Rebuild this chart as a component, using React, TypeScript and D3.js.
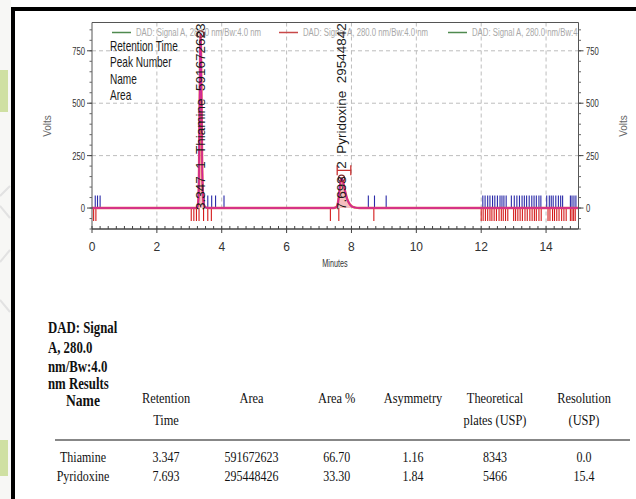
import React from "react";
import * as d3 from "d3";

// ---- chromatogram data ----
const xTicks = [0, 2, 4, 6, 8, 10, 12, 14];
const yTicks = [0, 250, 500, 750];

// detector trace (minutes, volts)
const signalTrace: [number, number][] = [
  [0, 0], [3.2, 0], [3.25, 5], [3.28, 40], [3.3, 180], [3.32, 520], [3.335, 760],
  [3.347, 830], [3.36, 760], [3.375, 540], [3.395, 230], [3.42, 70], [3.45, 15],
  [3.5, 3], [3.6, 0], [7.45, 0], [7.52, 3], [7.57, 15], [7.61, 55], [7.64, 100],
  [7.67, 132], [7.693, 142], [7.72, 136], [7.76, 112], [7.81, 76], [7.87, 42],
  [7.94, 20], [8.02, 7], [8.12, 2], [8.25, 0], [15, 0],
];

const peakNames = ["Thiamine", "Pyridoxine"];
const peakTimes = [3.347, 7.693];
const peakNumbers = [1, 2];
const peakAreas = [591672623, 295448426];
const peakHeights = [830, 142];

// integration events along the baseline (minutes)
const blueEvents = [
  0.1, 0.17, 0.25, 3.46, 3.57, 3.69, 3.81, 4.07, 8.52, 8.71, 9.07,
  12.05, 12.12, 12.2, 12.27, 12.35, 12.42, 12.5, 12.58, 12.64, 12.7, 12.77,
  12.93, 13.02, 13.1, 13.18, 13.26, 13.33, 13.4, 13.48, 13.56, 13.63, 13.7, 13.78, 13.84,
  14.02, 14.1, 14.16, 14.22, 14.3, 14.38, 14.45, 14.51, 14.75, 14.8, 14.86, 14.92,
];
const redEvents = [
  0.05, 0.12, 3.06, 3.14, 3.22, 3.3, 3.44, 3.57, 3.68, 7.35, 7.61, 8.69,
  12.0, 12.06, 12.13, 12.2, 12.27, 12.33, 12.4, 12.47, 12.55, 12.62, 12.68, 12.75, 12.82,
  13.0, 13.06, 13.13, 13.2, 13.27, 13.35, 13.42, 13.5, 13.57, 13.64, 13.7, 13.78, 13.85,
  14.06, 14.12, 14.2, 14.26, 14.33, 14.4, 14.48, 14.55, 14.62, 14.75, 14.8, 14.85, 14.9,
];

const legendLabels = [
  "DAD: Signal A, 280.0 nm/Bw:4.0 nm",
  "DAD: Signal A, 280.0 nm/Bw:4.0 nm",
  "DAD: Signal A, 280.0 nm/Bw:4.0 nm",
];
const legendColors = ["#4f8a4f", "#c84848", "#4f8a4f"];
const annotationFields = ["Retention Time", "Peak Number", "Name", "Area"];

// ---- results table data ----
const tableTitle = ["DAD: Signal", "A, 280.0", "nm/Bw:4.0", "nm Results"];
const tableHeaders = [["Name"], ["Retention", "Time"], ["Area"], ["Area %"], ["Asymmetry"], ["Theoretical", "plates (USP)"], ["Resolution", "(USP)"]];
const compoundNames = ["Thiamine", "Pyridoxine"];
const retentionTimes = ["3.347", "7.693"];
const areas = ["591672623", "295448426"];
const areaPercents = ["66.70", "33.30"];
const asymmetry = ["1.16", "1.84"];
const theoreticalPlates = ["8343", "5466"];
const resolution = ["0.0", "15.4"];

const W = 636;
const H = 499;
const plot = { left: 92, right: 578.5, top: 22.5, bottom: 229 };

const x = d3.scaleLinear().domain([0, 15]).range([plot.left, plot.right]);
const y = d3.scaleLinear().domain([-100, 885]).range([plot.bottom, plot.top]);

const SANS = "Liberation Sans, Arial, sans-serif";
const SERIF = "Liberation Serif, Times New Roman, serif";

type CTextProps = {
  x: number; y: number; sx?: number; anchor?: "start" | "middle" | "end";
  size: number; family?: string; weight?: string | number; fill?: string; children: React.ReactNode;
};
// horizontally condensed text
const CText = ({ x, y, sx = 1, anchor = "start", size, family = SANS, weight = "normal", fill = "#222", children }: CTextProps) => (
  <g transform={`translate(${x},${y}) scale(${sx},1)`}>
    <text textAnchor={anchor} fontSize={size} fontFamily={family} fontWeight={weight} fill={fill}>
      {children}
    </text>
  </g>
);

export default function App() {
  const line = d3.line<[number, number]>().x((d) => x(d[0])).y((d) => y(d[1])).curve(d3.curveMonotoneX);
  const area = d3.area<[number, number]>().x((d) => x(d[0])).y0(y(0)).y1((d) => y(d[1])).curve(d3.curveMonotoneX);

  const minorX = d3.range(0, 15.001, 0.25);
  const minorY = d3.range(-100, 885, 50);

  const colX = [83, 166, 251.5, 336.7, 413, 495, 584];
  const rowY = [462, 481];
  const rows = [compoundNames, retentionTimes, areas, areaPercents, asymmetry, theoreticalPlates, resolution];
  const titleY = [333, 353, 372, 389];

  return (
    <svg width={W} height={H} style={{ position: "absolute", left: 0, top: 0, background: "#fff" }}>
      <defs>
        <clipPath id="plotClip">
          <rect x={plot.left} y={plot.top} width={plot.right - plot.left} height={plot.bottom - plot.top} />
        </clipPath>
      </defs>
      <rect x={0} y={0} width={W} height={H} fill="#fff" />

      {/* page margin strip */}
      <rect x={0} y={0} width={11} height={H} fill="#f7f7f5" />
      <rect x={0} y={70} width={8} height={42} fill="#cfe0a2" />
      <rect x={0} y={440} width={8} height={36} fill="#cfe0a2" />
      <path d="M0,196 L10,186 M0,206 L10,218 M0,262 L10,250 M0,300 L10,312" stroke="#e2e2e2" strokeWidth={2} fill="none" />

      {/* document frame */}
      <rect x={11} y={7} width={W - 11} height={4} fill="#000" />
      <rect x={11} y={7} width={4} height={H - 7} fill="#000" />

      {/* grid */}
      {yTicks.filter((t) => t !== 0).map((t) => (
        <line key={`gy${t}`} x1={plot.left} x2={plot.right} y1={y(t)} y2={y(t)} stroke="#bdbdbd" strokeDasharray="4,3" />
      ))}
      {xTicks.filter((t) => t !== 0).map((t) => (
        <line key={`gx${t}`} x1={x(t)} x2={x(t)} y1={plot.top} y2={plot.bottom} stroke="#bdbdbd" strokeDasharray="4,3" />
      ))}

      {/* legend */}
      {legendLabels.map((lab, i) => {
        const lx = [112, 279, 448][i];
        return (
          <g key={`lg${i}`} clipPath="url(#plotClip)">
            <line x1={lx} x2={lx + 19} y1={32.5} y2={32.5} stroke={legendColors[i]} strokeWidth={1.5} />
            <text x={lx + 24} y={36} fontSize={10} fontFamily={SANS} fill="#a8a8a8" textLength={125} lengthAdjust="spacingAndGlyphs">
              {lab}
            </text>
          </g>
        );
      })}

      {/* peak annotation field list */}
      {annotationFields.map((f, i) => (
        <CText key={f} x={110} y={51 + i * 16.4} sx={0.72} size={14} fill="#1a1a1a">{f}</CText>
      ))}

      <g clipPath="url(#plotClip)">
        {/* integration events */}
        {blueEvents.map((e, i) => (
          <line key={`b${i}`} x1={x(e)} x2={x(e)} y1={y(0)} y2={y(60)} stroke="#2a2aa8" strokeWidth={1.1} />
        ))}
        {redEvents.map((e, i) => (
          <line key={`r${i}`} x1={x(e)} x2={x(e)} y1={y(0)} y2={y(-62)} stroke="#d41a1a" strokeWidth={1.1} />
        ))}

        {/* signal */}
        <path d={area(signalTrace) ?? ""} fill="#ec8a8a" opacity={0.55} />
        <path d={line(signalTrace) ?? ""} fill="none" stroke="#e0604c" strokeWidth={2.4} />
        <path d={line(signalTrace) ?? ""} fill="none" stroke="#d2259a" strokeWidth={1.5} />

        {/* integration bracket on peak 2 */}
        <g stroke="#c83030" strokeWidth={1.3}>
          <line x1={x(7.56)} x2={x(7.98)} y1={y(180)} y2={y(180)} />
          <line x1={x(7.56)} x2={x(7.56)} y1={y(180) - 5} y2={y(180) + 5} />
          <line x1={x(7.98)} x2={x(7.98)} y1={y(180) - 5} y2={y(180) + 5} />
        </g>

        {/* apex markers and peak labels */}
        {peakTimes.map((t, i) => (
          <g key={`pk${i}`}>
            <circle cx={x(t)} cy={y(peakHeights[i])} r={3.2} fill="none" stroke="#7a2a2a" strokeWidth={1.2} />
            <text
              transform={`translate(${x(t) + 4.5},${y(0) + 2}) rotate(-90)`}
              fontSize={13.5}
              fontFamily={SANS}
              fill="#1a1a1a"
              style={{ whiteSpace: "pre" }}
            >
              {`${t.toFixed(3)}  ${peakNumbers[i]}  ${peakNames[i]}  ${peakAreas[i]}`}
            </text>
          </g>
        ))}
      </g>

      {/* plot frame */}
      <line x1={plot.left} x2={plot.right} y1={plot.top} y2={plot.top} stroke="#555" />
      <line x1={plot.left} x2={plot.left} y1={plot.top} y2={plot.bottom} stroke="#555" />
      <line x1={plot.right} x2={plot.right} y1={plot.top} y2={plot.bottom} stroke="#555" />
      <line x1={plot.left} x2={plot.right} y1={plot.bottom} y2={plot.bottom} stroke="#444" strokeWidth={1.6} />

      {/* bottom axis */}
      {minorX.map((t, i) => (
        <line key={`mx${i}`} x1={x(t)} x2={x(t)} y1={plot.bottom} y2={plot.bottom - 3} stroke="#444" />
      ))}
      {xTicks.map((t) => (
        <g key={`xt${t}`}>
          <line x1={x(t)} x2={x(t)} y1={plot.bottom} y2={plot.bottom + 4} stroke="#444" />
          <text x={x(t)} y={250.5} textAnchor="middle" fontSize={12} fontFamily={SANS} fill="#333">{t}</text>
        </g>
      ))}
      <CText x={335} y={266.5} sx={0.66} anchor="middle" size={11} fill="#333">Minutes</CText>

      {/* left and right axes */}
      {minorY.map((t, i) => (
        <g key={`my${i}`}>
          <line x1={plot.left - 2.5} x2={plot.left} y1={y(t)} y2={y(t)} stroke="#666" />
          <line x1={plot.right} x2={plot.right + 2.5} y1={y(t)} y2={y(t)} stroke="#666" />
        </g>
      ))}
      {yTicks.map((t) => (
        <g key={`yt${t}`}>
          <line x1={plot.left - 5} x2={plot.left} y1={y(t)} y2={y(t)} stroke="#444" />
          <line x1={plot.right} x2={plot.right + 5} y1={y(t)} y2={y(t)} stroke="#444" />
          <CText x={85} y={y(t) + 4} sx={0.7} anchor="end" size={11} fill="#333">{t}</CText>
          <CText x={586} y={y(t) + 4} sx={0.7} anchor="start" size={11} fill="#333">{t}</CText>
        </g>
      ))}
      <text transform="translate(51,126) rotate(-90)" textAnchor="middle" fontSize={10} fontFamily={SANS} fill="#666">Volts</text>
      <text transform="translate(627,126) rotate(-90)" textAnchor="middle" fontSize={10} fontFamily={SANS} fill="#666">Volts</text>

      {/* results table */}
      {tableTitle.map((s, i) => (
        <CText key={`tt${i}`} x={48} y={titleY[i]} sx={0.8} size={16} family={SERIF} weight="bold" fill="#111">{s}</CText>
      ))}
      {tableHeaders.map((lines, c) =>
        lines.map((s, j) => (
          <CText key={`th${c}-${j}`} x={colX[c]} y={c === 0 ? 406 : 403 + j * 22} sx={0.8} anchor="middle"
            size={c === 0 ? 17 : 15.5} family={SERIF} weight={c === 0 ? "bold" : "normal"} fill="#111">{s}</CText>
        ))
      )}
      <line x1={55} x2={630} y1={440} y2={440} stroke="#111" strokeWidth={1.2} />
      {rows.map((col, c) =>
        col.map((v, r) => (
          <CText key={`td${c}-${r}`} x={colX[c]} y={rowY[r]} sx={0.8} anchor="middle" size={15} family={SERIF} fill="#111">{v}</CText>
        ))
      )}
    </svg>
  );
}
